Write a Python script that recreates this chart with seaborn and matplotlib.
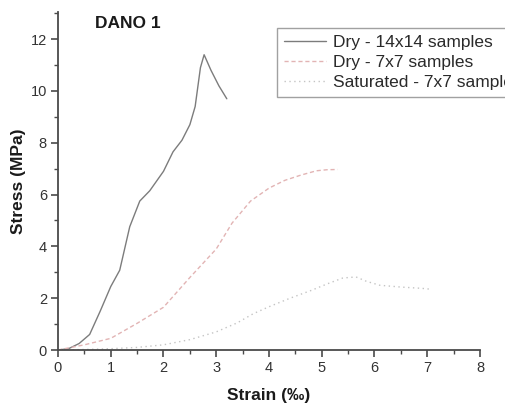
import matplotlib
matplotlib.use("Agg")
import matplotlib.pyplot as plt
import seaborn as sns
import pandas as pd
from matplotlib.ticker import MultipleLocator

# ---- data ----
series_names = ["Dry - 14x14 samples", "Dry - 7x7 samples", "Saturated - 7x7 samples"]

dry14_x = [0, 0.2, 0.4, 0.6, 0.8, 1.0, 1.17, 1.36, 1.55, 1.74, 2.0, 2.18, 2.35, 2.5, 2.6, 2.7, 2.77, 2.9, 3.05, 3.2]
dry14_y = [0, 0.05, 0.25, 0.6, 1.5, 2.45, 3.08, 4.76, 5.75, 6.15, 6.9, 7.65, 8.1, 8.7, 9.4, 10.9, 11.4, 10.8, 10.2, 9.7]

dry7_x = [0, 0.5, 1.0, 1.5, 2.0, 2.5, 3.0, 3.3, 3.65, 4.0, 4.3, 4.6, 4.9, 5.1, 5.3]
dry7_y = [0, 0.2, 0.45, 1.03, 1.65, 2.8, 3.9, 4.9, 5.75, 6.25, 6.55, 6.75, 6.92, 6.96, 6.97]

sat_x = [0, 0.5, 1.0, 1.5, 2.0, 2.5, 3.0, 3.4, 3.7, 4.0, 4.4, 4.8, 5.1, 5.4, 5.65, 5.85, 6.1, 6.5, 6.9, 7.05]
sat_y = [0, 0.02, 0.05, 0.1, 0.2, 0.4, 0.7, 1.05, 1.4, 1.67, 2.0, 2.3, 2.55, 2.78, 2.82, 2.65, 2.5, 2.43, 2.38, 2.35]

title_text = "DANO 1"
x_label = "Strain (‰)"
y_label = "Stress (MPa)"

df = pd.concat([
    pd.DataFrame({"strain": dry14_x, "stress": dry14_y, "series": series_names[0]}),
    pd.DataFrame({"strain": dry7_x, "stress": dry7_y, "series": series_names[1]}),
    pd.DataFrame({"strain": sat_x, "stress": sat_y, "series": series_names[2]}),
], ignore_index=True)

sns.set_theme(style="ticks")
plt.rcParams["font.family"] = ["Liberation Sans", "DejaVu Sans"]

fig = plt.figure(figsize=(5.06, 4.08), dpi=100)
ax = fig.add_axes([58 / 506, 58 / 408, (480 - 58) / 506, (350 - 12) / 408])

palette = {series_names[0]: "#7c7c7c", series_names[1]: "#e2b4b4", series_names[2]: "#c4c4c4"}
dashes = {series_names[0]: "", series_names[1]: (3, 2), series_names[2]: (1, 2.5)}

sns.lineplot(data=df, x="strain", y="stress", hue="series", style="series",
             palette=palette, dashes=dashes, estimator=None, sort=False,
             linewidth=1.0, ax=ax)

ax.set_xlim(0, 8)
ax.set_ylim(0, 13.05)
ax.xaxis.set_major_locator(MultipleLocator(1))
ax.xaxis.set_minor_locator(MultipleLocator(0.5))
ax.yaxis.set_major_locator(MultipleLocator(2))
ax.yaxis.set_minor_locator(MultipleLocator(1))

for side in ["top", "right"]:
    ax.spines[side].set_visible(False)
for side in ["left", "bottom"]:
    ax.spines[side].set_color("#4a4a4a")
    ax.spines[side].set_linewidth(1.3)

ax.tick_params(axis="both", which="major", direction="out", length=5, width=1.2,
               color="#4a4a4a", labelsize=10.5, labelcolor="#333333", pad=3)
ax.tick_params(axis="both", which="minor", direction="out", length=3, width=1.0, color="#4a4a4a")

ax.set_xlabel(x_label, fontsize=12.5, fontweight="bold", color="#1a1a1a")
ax.set_ylabel(y_label, fontsize=12.5, fontweight="bold", color="#1a1a1a")
ax.xaxis.set_label_coords(0.5, -0.113)
ax.yaxis.set_label_coords(-0.076, 0.5)

ax.text(0.7, 12.62, title_text, fontsize=12.5, fontweight="bold", color="#1a1a1a",
        ha="left", va="center")

leg = fig.legend(*ax.get_legend_handles_labels(), loc="upper left",
                 bbox_to_anchor=(277 / 506, (408 - 28) / 408), bbox_transform=fig.transFigure,
                 borderaxespad=0, fontsize=12.5, frameon=True, fancybox=False,
                 labelspacing=0.28, handlelength=2.4, handletextpad=0.4, borderpad=0.4)
leg.get_frame().set_edgecolor("#8a8a8a")
leg.get_frame().set_linewidth(1.0)
for t in leg.get_texts():
    t.set_color("#2a2a2a")
ax.get_legend().remove()

fig.savefig("out.png", dpi=100)
